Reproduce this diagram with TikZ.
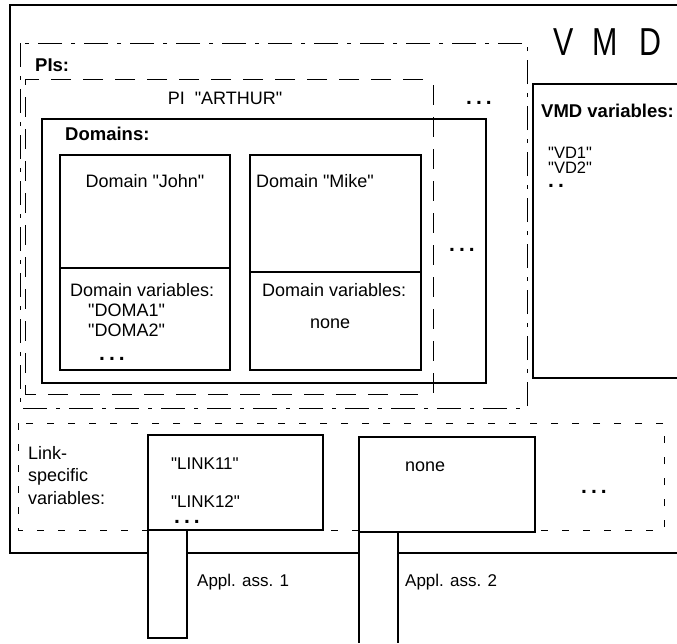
\documentclass[tikz,border=0pt]{standalone}
\usepackage{fontspec}
\usepackage{graphicx}
\setmainfont{Liberation Sans}[Ligatures=TeXOff]
\newcommand\threedots{\textbf{.\hspace{4pt}.\hspace{4pt}.}}
\newcommand\twodots{\textbf{.\hspace{4pt}.}}
\begin{document}
\begin{tikzpicture}[x=1pt,y=-1pt,
  frame/.style={line width=1.1pt},
  dashdotframe/.style={line width=1pt, dash pattern=on 24pt off 9pt on 4pt off 9pt},
  longdashframe/.style={line width=1pt, dash pattern=on 20pt off 12pt},
  shortdashframe/.style={line width=1pt, dash pattern=on 7pt off 14pt},
  lbl/.style={font=\fontsize{18}{20}\selectfont, inner sep=0pt, anchor=base west},
  clbl/.style={lbl, anchor=base},
  blbl/.style={lbl, font=\fontsize{18.5}{20}\selectfont\bfseries},
  small/.style={font=\fontsize{17}{18}\selectfont},
  dotlbl/.style={lbl, font=\fontsize{21}{22}\selectfont}]
\useasboundingbox (0,0) rectangle (677,643);

% outer VMD frame, open to the right, with openings for the columns
\draw[frame] (677,5) -- (10,5) -- (10,553) -- (148,553);
\draw[frame] (187,553) -- (359,553);
\draw[frame] (398,553) -- (677,553);
\node[inner sep=0pt, anchor=base] (vmd) at (607.5,55)
  {\scalebox{0.78}[1]{\fontsize{39}{40}\selectfont V\hspace{24pt}M\hspace{28pt}D}};

% PIs frame
\draw[dashdotframe] (20,43) rectangle (527,408);
\node[blbl] (pis) at (35,71) {PIs:};

% PI "ARTHUR" frame
\draw[longdashframe] (423,79) -- (25,79) -- (25,394) -- (418,394);
\draw[longdashframe] (433,85) -- (433,396);
\node[clbl] (arthur) at (225,104) {PI\ \ "ARTHUR"};
\node[dotlbl] (pidots) at (466,104) {\threedots};

% Domains frame
\draw[frame] (42,119) rectangle (486,383);
\node[blbl] (domains) at (65,140) {Domains:};

% Domain "John"
\draw[frame] (60,155) rectangle (230,370);
\draw[frame] (60,268) -- (230,268);
\node[clbl] (john) at (145,187) {Domain "John"};
\node[lbl] (johnvars) at (70,296) {Domain variables:};
\node[lbl] (doma1) at (88,316) {"DOMA1"};
\node[lbl] (doma2) at (88,336) {"DOMA2"};
\node[dotlbl] (johndots) at (99,360) {\threedots};

% Domain "Mike"
\draw[frame] (250,155) rectangle (421,370);
\draw[frame] (250,272) -- (421,272);
\node[clbl] (mike) at (315,187) {Domain "Mike"};
\node[lbl] (mikevars) at (262,296) {Domain variables:};
\node[lbl] (mikenone) at (310,328) {none};
\node[dotlbl] (domdots) at (449,251) {\threedots};

% VMD variables
\draw[frame] (677,84) -- (533,84) -- (533,378) -- (677,378);
\node[blbl] (vmdvars) at (541,117) {VMD variables:};
\node[lbl, font=\fontsize{16.5}{18}\selectfont] (vd1) at (548,158) {"VD1"};
\node[lbl, font=\fontsize{16.5}{18}\selectfont] (vd2) at (548,173) {"VD2"};
\node[dotlbl] (vddots) at (548,187) {\twodots};

% link-specific variables
\draw[shortdashframe] (18,423) rectangle (664,530);
\node[lbl] (link) at (28,459) {Link-};
\node[lbl] (specific) at (28,481) {specific};
\node[lbl] (variables) at (28,504) {variables:};

% link boxes and application association columns
\draw[frame, fill=white] (148,435) rectangle (323,530);
\draw[frame] (148,530) -- (148,638) -- (187,638) -- (187,530);
\node[lbl, small] (link11) at (171,469) {"LINK11"};
\node[lbl, small] (link12) at (171,507) {"LINK12"};
\node[dotlbl] (linkdots) at (174,523) {\threedots};

\draw[frame, fill=white] (359,437) rectangle (535,532);
\draw[frame] (359,532) -- (359,643);
\draw[frame] (398,532) -- (398,643);
\node[lbl] (linknone) at (405,471) {none};
\node[dotlbl] (rowdots) at (581,493) {\threedots};

\node[lbl, small] (appl1) at (197,586) {Appl. ass. 1};
\node[lbl, small] (appl2) at (405,586) {Appl. ass. 2};
\end{tikzpicture}
\end{document}
